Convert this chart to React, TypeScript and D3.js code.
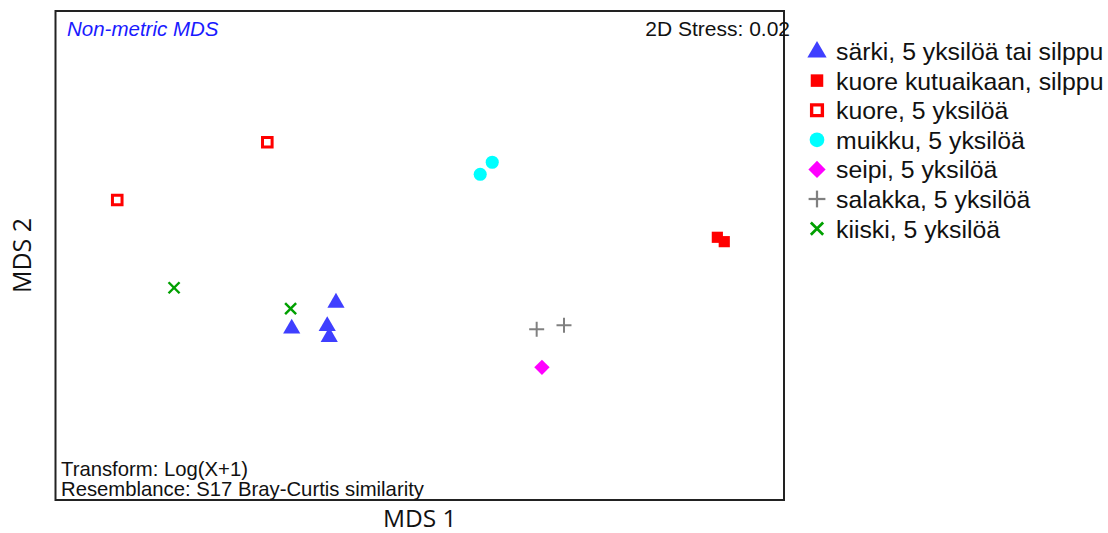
import React from "react";
import * as d3 from "d3";

// MDS ordination coordinates per group
const sarkiX = [-0.46, -0.703, -0.508, -0.497];
const sarkiY = [-0.254, -0.396, -0.382, -0.442];
const kuoreKutuX = [1.634, 1.672];
const kuoreKutuY = [0.1, 0.076];
const kuoreX = [-1.661, -0.837];
const kuoreY = [0.305, 0.622];
const muikkuX = [0.332, 0.398];
const muikkuY = [0.446, 0.512];
const seipiX = [0.671];
const seipiY = [-0.614];
const salakkaX = [0.642, 0.792];
const salakkaY = [-0.405, -0.383];
const kiiskiX = [-1.349, -0.709];
const kiiskiY = [-0.177, -0.292];

const groupLabels = [
  "särki, 5 yksilöä tai silppu",
  "kuore kutuaikaan, silppu",
  "kuore, 5 yksilöä",
  "muikku, 5 yksilöä",
  "seipi, 5 yksilöä",
  "salakka, 5 yksilöä",
  "kiiski, 5 yksilöä",
];

const stressText = "2D Stress: 0.02";
const methodText = "Non-metric MDS";
const transformText = "Transform: Log(X+1)";
const resemblanceText = "Resemblance: S17 Bray-Curtis similarity";

type Kind = "triangle" | "square" | "openSquare" | "circle" | "diamond" | "plus" | "cross";

const groups: { xs: number[]; ys: number[]; kind: Kind; color: string }[] = [
  { xs: sarkiX, ys: sarkiY, kind: "triangle", color: "#3f3fff" },
  { xs: kuoreKutuX, ys: kuoreKutuY, kind: "square", color: "#ff0000" },
  { xs: kuoreX, ys: kuoreY, kind: "openSquare", color: "#ff0000" },
  { xs: muikkuX, ys: muikkuY, kind: "circle", color: "#00ffff" },
  { xs: seipiX, ys: seipiY, kind: "diamond", color: "#ff00ff" },
  { xs: salakkaX, ys: salakkaY, kind: "plus", color: "#808080" },
  { xs: kiiskiX, ys: kiiskiY, kind: "cross", color: "#00a000" },
];

const W = 1108;
const H = 533;
const frame = { left: 55.5, right: 784, top: 11, bottom: 500 };

const x = d3.scaleLinear().domain([-2, 2]).range([frame.left, frame.right]);
const halfY = (frame.bottom - frame.top) / (frame.right - frame.left) * 2;
const y = d3.scaleLinear().domain([-halfY, halfY]).range([frame.bottom, frame.top]);

function Marker({ kind, color, cx, cy, k = 1 }: { kind: Kind; color: string; cx: number; cy: number; k?: number }) {
  const t = `translate(${cx},${cy}) scale(${k})`;
  switch (kind) {
    case "triangle":
      return <path transform={`translate(${cx},${cy + 1}) scale(${k})`} d={d3.symbol(d3.symbolTriangle, 128)()!} fill={color} />;
    case "square":
      return <path transform={t} d={d3.symbol(d3.symbolSquare, 125)()!} fill={color} />;
    case "openSquare":
      return (
        <path transform={t} d={d3.symbol(d3.symbolSquare, 92)()!} fill="#fff" stroke={color} strokeWidth={3} />
      );
    case "circle":
      return <path transform={t} d={d3.symbol(d3.symbolCircle, 135)()!} fill={color} />;
    case "diamond":
      return <path transform={`${t} rotate(45)`} d={d3.symbol(d3.symbolSquare, 118)()!} fill={color} />;
    case "plus":
      return (
        <g transform={t} stroke={color} strokeWidth={2}>
          <line x1={-7.5} x2={7.5} y1={0} y2={0} />
          <line x1={0} x2={0} y1={-7.5} y2={7.5} />
        </g>
      );
    case "cross":
      return (
        <g transform={t} stroke={color} strokeWidth={2.4}>
          <line x1={-5.5} x2={5.5} y1={-5.5} y2={5.5} />
          <line x1={-5.5} x2={5.5} y1={5.5} y2={-5.5} />
        </g>
      );
  }
}

export default function App() {
  const legendX = 817;
  const legendY0 = 51;
  const legendStep = 29.6;
  return (
    <svg
      width={W}
      height={H}
      style={{ position: "absolute", left: 0, top: 0, background: "#fff" }}
      fontFamily="'Liberation Sans', Arial, sans-serif"
    >
      <rect
        x={frame.left}
        y={frame.top}
        width={frame.right - frame.left}
        height={frame.bottom - frame.top}
        fill="none"
        stroke="#222"
        strokeWidth={2}
      />
      <text x={67} y={36} fontSize={20.5} fontStyle="italic" fill="#1a1aff">
        {methodText}
      </text>
      <text x={790} y={36} fontSize={21} textAnchor="end" fill="#111">
        {stressText}
      </text>
      <text x={61} y={476} fontSize={20.3} fill="#111">
        {transformText}
      </text>
      <text x={61} y={496} fontSize={20.3} fill="#111">
        {resemblanceText}
      </text>

      {groups.map((g, gi) =>
        g.xs.map((v, i) => (
          <Marker key={`${gi}-${i}`} kind={g.kind} color={g.color} cx={x(v)} cy={y(g.ys[i])} />
        ))
      )}

      {groupLabels.map((lab, i) => (
        <g key={lab}>
          <Marker
            kind={groups[i].kind}
            color={groups[i].color}
            cx={legendX}
            cy={legendY0 + i * legendStep}
            k={1.12}
          />
          <text x={836} y={legendY0 + i * legendStep + 9} fontSize={24.8} fill="#111">
            {lab}
          </text>
        </g>
      ))}

      <text
        x={(frame.left + frame.right) / 2}
        y={527}
        fontSize={24.5}
        textAnchor="middle"
        fill="#111"
        fontFamily="'Open Sans', sans-serif"
      >
        MDS 1
      </text>
      <text
        transform={`translate(31,${(frame.top + frame.bottom) / 2}) rotate(-90)`}
        fontSize={25}
        textAnchor="middle"
        fill="#111"
        fontFamily="'Open Sans', sans-serif"
      >
        MDS 2
      </text>
    </svg>
  );
}
